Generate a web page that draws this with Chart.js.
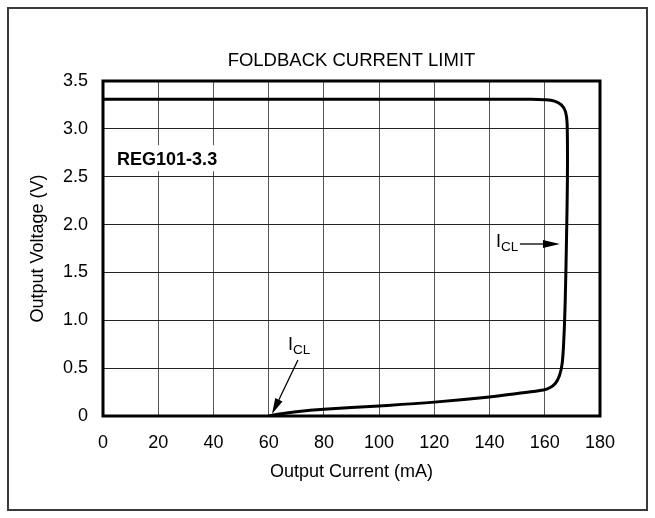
<!DOCTYPE html>
<html>
<head>
<meta charset="utf-8">
<script src="https://cdn.jsdelivr.net/npm/chart.js@4"></script>
<style>
  html, body { margin: 0; padding: 0; background: #fff; }
  #wrap { width: 655px; height: 518px; position: relative; }
</style>
</head>
<body>
<div id="wrap"><canvas id="c" width="655" height="518"></canvas></div>
<script>
// ---- data ----
const chartTitle = 'FOLDBACK CURRENT LIMIT';
const deviceLabel = 'REG101-3.3';
const xTitle = 'Output Current (mA)';
const yTitle = 'Output Voltage (V)';
const xTicks = [0, 20, 40, 60, 80, 100, 120, 140, 160, 180];
const yTicks = [0, 0.5, 1.0, 1.5, 2.0, 2.5, 3.0, 3.5];
const currentMA = [0, 100, 155, 160, 163.5, 166, 167.5, 168.1, 168.2, 167.9, 167.4, 166.9, 166.3, 165.3, 163.8, 161.8, 159.5, 150, 140, 120, 100, 80, 70, 64, 60];
const voltageV  = [3.31, 3.31, 3.31, 3.305, 3.29, 3.25, 3.18, 3.05, 2.5, 1.9, 1.2, 0.8, 0.55, 0.42, 0.34, 0.295, 0.272, 0.235, 0.198, 0.145, 0.105, 0.07, 0.045, 0.022, 0];
// annotations (data units)
const iclUpper = { textX: 142.3, textY: 1.766, fromX: 151.0, toX: 165.5, arrowY: 1.797 };
const iclLower = { textX: 67.0, textY: 0.69, fromX: 70.6, fromY: 0.585, toX: 61.2, toY: 0.02 };
const labelPos = { x: 5.1, y: 2.62 };

const FONT = '"Liberation Sans", Arial, Helvetica, sans-serif';
const points = currentMA.map((x, i) => ({ x, y: voltageV[i] }));

function arrow(ctx, x1, y1, x2, y2, headLen, headHalf) {
  const a = Math.atan2(y2 - y1, x2 - x1);
  const bx = x2 - headLen * Math.cos(a), by = y2 - headLen * Math.sin(a);
  ctx.beginPath();
  ctx.moveTo(x1, y1); ctx.lineTo(bx, by);
  ctx.lineWidth = 1.3; ctx.strokeStyle = '#000'; ctx.stroke();
  ctx.beginPath();
  ctx.moveTo(x2, y2);
  ctx.lineTo(bx + headHalf * Math.sin(a), by - headHalf * Math.cos(a));
  ctx.lineTo(bx - headHalf * Math.sin(a), by + headHalf * Math.cos(a));
  ctx.closePath(); ctx.fillStyle = '#000'; ctx.fill();
}
function icl(ctx, x, y) {
  ctx.fillStyle = '#000';
  ctx.textAlign = 'left'; ctx.textBaseline = 'alphabetic';
  ctx.font = '18px ' + FONT;
  ctx.fillText('I', x, y);
  const w = ctx.measureText('I').width;
  ctx.font = '13.5px ' + FONT;
  ctx.fillText('CL', x + w, y + 4);
}

const decor = {
  id: 'decor',
  beforeDraw(chart) {
    const { ctx } = chart;
    ctx.save();
    ctx.fillStyle = '#fff';
    ctx.fillRect(0, 0, chart.width, chart.height);
    ctx.restore();
  },
  beforeDatasetsDraw(chart) {
    const { ctx, scales: { x, y } } = chart;
    ctx.save();
    ctx.font = 'bold 18px ' + FONT;
    const lx = x.getPixelForValue(labelPos.x), ly = y.getPixelForValue(labelPos.y);
    const w = ctx.measureText(deviceLabel).width;
    ctx.fillStyle = '#fff';
    ctx.fillRect(lx - 4, ly - 20, w + 8, 26);
    ctx.fillStyle = '#000';
    ctx.textAlign = 'left'; ctx.textBaseline = 'alphabetic';
    ctx.fillText(deviceLabel, lx, ly);
    ctx.restore();
  },
  afterDraw(chart) {
    const { ctx, chartArea: ca, scales: { x, y } } = chart;
    ctx.save();
    ctx.lineWidth = 3; ctx.strokeStyle = '#000';
    ctx.strokeRect(ca.left, ca.top, ca.right - ca.left, ca.bottom - ca.top);
    ctx.lineWidth = 2; ctx.strokeStyle = '#3a3a3a';
    ctx.strokeRect(8, 8, 639, 502);
    ctx.fillStyle = '#000';
    ctx.font = '18.5px ' + FONT;
    ctx.textAlign = 'center'; ctx.textBaseline = 'alphabetic';
    ctx.fillText(chartTitle, (ca.left + ca.right) / 2, 66);
    icl(ctx, x.getPixelForValue(iclUpper.textX), y.getPixelForValue(iclUpper.textY));
    arrow(ctx, x.getPixelForValue(iclUpper.fromX), y.getPixelForValue(iclUpper.arrowY),
               x.getPixelForValue(iclUpper.toX), y.getPixelForValue(iclUpper.arrowY), 17, 4);
    icl(ctx, x.getPixelForValue(iclLower.textX), y.getPixelForValue(iclLower.textY));
    arrow(ctx, x.getPixelForValue(iclLower.fromX), y.getPixelForValue(iclLower.fromY),
               x.getPixelForValue(iclLower.toX), y.getPixelForValue(iclLower.toY), 16, 4);
    ctx.restore();
  }
};

new Chart(document.getElementById('c'), {
  type: 'scatter',
  data: {
    datasets: [{
      data: points,
      showLine: true,
      borderColor: '#000',
      borderWidth: 3,
      pointRadius: 0,
      tension: 0.35,
      fill: false
    }]
  },
  options: {
    responsive: false,
    animation: false,
    layout: { padding: { top: 81, right: 55, bottom: 0, left: 0 } },
    plugins: { legend: { display: false }, tooltip: { enabled: false }, title: { display: false } },
    scales: {
      x: {
        type: 'linear', min: 0, max: 180,
        afterBuildTicks: s => { s.ticks = xTicks.map(v => ({ value: v })); },
        afterFit: s => { s.height = 102; },
        grid: { color: '#555', lineWidth: 1, drawTicks: false },
        border: { display: false },
        ticks: { color: '#000', padding: 16, font: { family: FONT, size: 18 }, maxRotation: 0 },
        title: { display: true, text: xTitle, color: '#000', font: { family: FONT, size: 18 }, padding: { top: 0, bottom: 35 } }
      },
      y: {
        type: 'linear', min: 0, max: 3.5,
        afterBuildTicks: s => { s.ticks = yTicks.map(v => ({ value: v })); },
        afterFit: s => { s.width = 103; },
        grid: { color: '#222', lineWidth: 1, drawTicks: false },
        border: { display: false },
        ticks: { color: '#000', padding: 15, font: { family: FONT, size: 18 },
          callback: v => v === 0 ? '0' : Number(v).toFixed(1) },
        title: { display: true, text: yTitle, color: '#000', font: { family: FONT, size: 18 }, padding: { top: 27, bottom: 0 } }
      }
    }
  },
  plugins: [decor]
});
</script>
</body>
</html>
